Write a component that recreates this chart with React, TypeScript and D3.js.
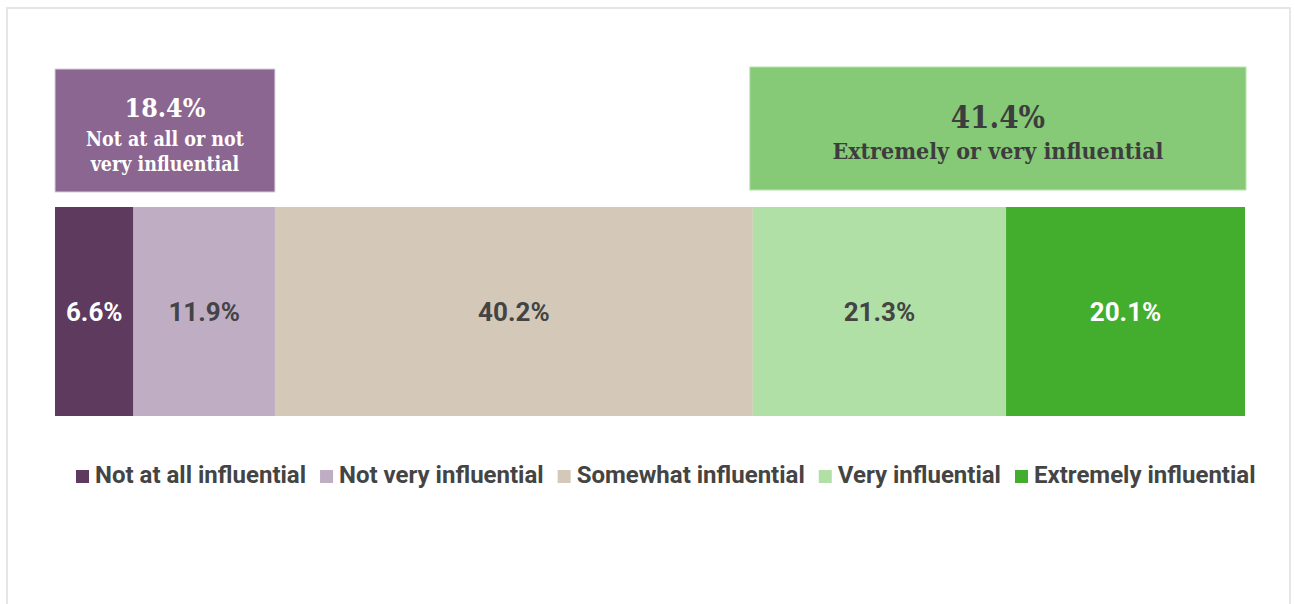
import React, { useRef, useEffect, useState } from "react";
import * as d3 from "d3";

// chart values
const categories = [
  "Not at all influential",
  "Not very influential",
  "Somewhat influential",
  "Very influential",
  "Extremely influential",
];
const values = [6.6, 11.9, 40.2, 21.3, 20.1];
const colors = ["#5e3a5f", "#bfadc4", "#d4c9b8", "#b0e0a6", "#43ad2e"];
const labelColors = ["#ffffff", "#444444", "#444444", "#444444", "#ffffff"];

// grouped callouts (which categories they cover)
const groupValues = [18.4, 41.4];
const groupLines = [["Not at all or not", "very influential"], ["Extremely or very influential"]];
const groupRanges = [[0, 1], [3, 4]];
const groupFills = ["#8a6690", "#86ca77"];
const groupStrokes = ["#d9cde0", "#b8e3ad"];
const groupText = ["#ffffff", "#3d3d3d"];

const W = 1295;
const H = 604;
const slab = "'Roboto Slab', 'DejaVu Serif Condensed', 'DejaVu Serif', serif";
const sans = "Roboto, 'Noto Sans', sans-serif";

const App = () => {
  const legendRef = useRef<SVGGElement>(null);
  const [widths, setWidths] = useState<number[]>(categories.map(() => 200));

  const total = d3.sum(values);
  const starts = values.map((_, i) => d3.sum(values.slice(0, i)));
  const x = d3.scaleLinear().domain([0, total]).range([55, 1245]);
  const y = d3.scaleBand().domain(["all"]).range([207, 416]).padding(0);
  const boxY = d3.scaleBand().domain(["callout"]).range([68, 192]).padding(0);

  useEffect(() => {
    const g = d3.select(legendRef.current);
    const w: number[] = [];
    g.selectAll<SVGTextElement, unknown>("text").each(function () {
      w.push(this.getComputedTextLength());
    });
    if (w.length && w.some((v, i) => Math.abs(v - widths[i]) > 0.5)) setWidths(w);
  }, [widths]);

  // legend layout from measured text widths
  const sw = 13;
  const gap = 6;
  const itemGap = 14;
  const legendX: number[] = [];
  let cx = 76;
  widths.forEach((w) => {
    legendX.push(cx);
    cx += sw + gap + w + itemGap;
  });

  return (
    <svg
      width={W}
      height={H}
      style={{ position: "absolute", left: 0, top: 0, background: "#fff" }}
    >
      <rect x={7} y={8} width={1283} height={640} fill="#fff" stroke="#e6e6e6" strokeWidth={2} />

      {groupValues.map((v, gi) => {
        const [a, b] = groupRanges[gi];
        // the right callout sits a touch wider than its bars
        const x0 = x(starts[a]) - (gi === 1 ? 3 : 0);
        const x1 = x(starts[b] + values[b]) + (gi === 1 ? 1 : 0);
        const top = boxY("callout")! + (gi === 1 ? -1 : 1);
        const h = boxY.bandwidth() - 1;
        const mid = (x0 + x1) / 2;
        const lines = groupLines[gi];
        const big = gi === 0 ? 26.5 : 31;
        const small = gi === 0 ? 19.5 : 23;
        const numY = gi === 0 ? top + 48 : top + 61;
        return (
          <g key={gi}>
            <rect
              x={x0}
              y={top}
              width={x1 - x0}
              height={h}
              fill={groupFills[gi]}
              stroke={groupStrokes[gi]}
              strokeWidth={1}
            />
            <text
              x={mid}
              y={numY}
              textAnchor="middle"
              fill={groupText[gi]}
              fontFamily={slab}
              fontWeight="bold"
              fontSize={big}
            >
              {v.toFixed(1)}%
            </text>
            {lines.map((ln, li) => (
              <text
                key={li}
                x={mid}
                y={numY + (gi === 0 ? 29 : 31) + li * 25}
                textAnchor="middle"
                fill={groupText[gi]}
                fontFamily={slab}
                fontWeight="bold"
                fontSize={small}
              >
                {ln}
              </text>
            ))}
          </g>
        );
      })}

      {values.map((v, i) => (
        <g key={categories[i]}>
          <rect
            x={x(starts[i])}
            y={y("all")!}
            width={x(starts[i] + v) - x(starts[i])}
            height={y.bandwidth()}
            fill={colors[i]}
          />
          <text
            x={(x(starts[i]) + x(starts[i] + v)) / 2}
            y={y("all")! + y.bandwidth() / 2}
            dy="0.36em"
            textAnchor="middle"
            fill={labelColors[i]}
            fontFamily={sans}
            fontWeight="bold"
            fontSize={26}
          >
            {v.toFixed(1)}%
          </text>
        </g>
      ))}

      <g ref={legendRef}>
        {categories.map((c, i) => (
          <g key={c}>
            <rect x={legendX[i]} y={470} width={sw} height={sw} fill={colors[i]} />
            <text
              x={legendX[i] + sw + gap}
              y={483}
              fill="#444444"
              fontFamily={sans}
              fontWeight="bold"
              fontSize={24}
            >
              {c}
            </text>
          </g>
        ))}
      </g>
    </svg>
  );
};

export default App;
